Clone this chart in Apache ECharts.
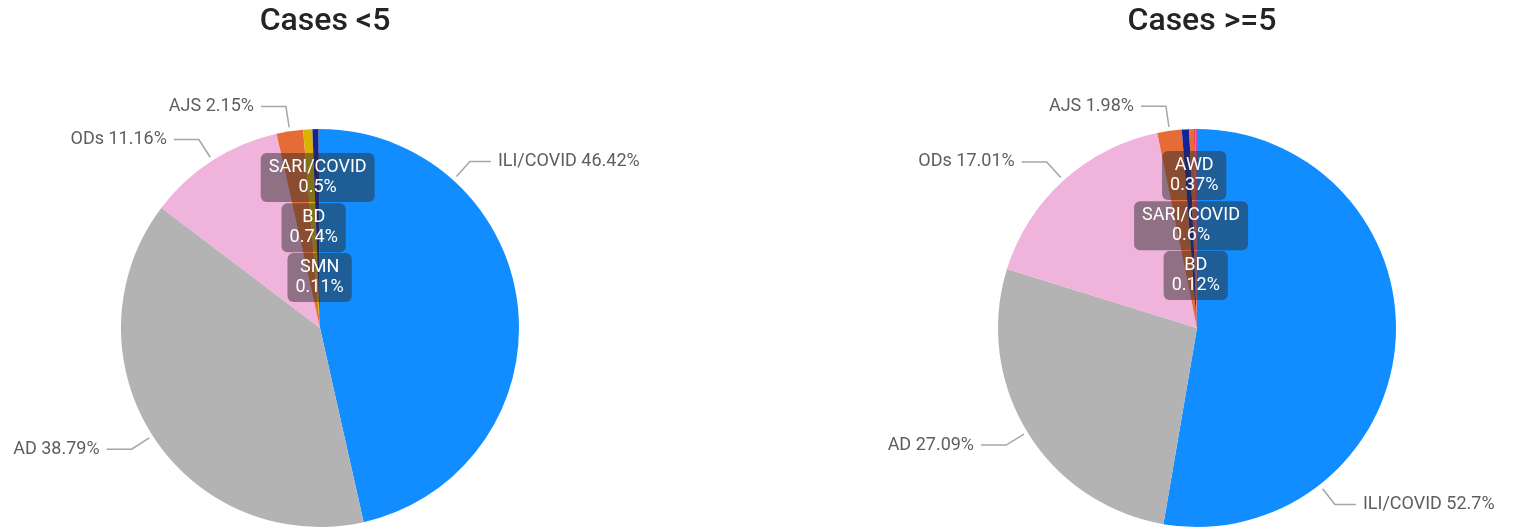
<!DOCTYPE html>
<html>
<head>
<meta charset="utf-8">
<script src="https://cdn.jsdelivr.net/npm/echarts@6/dist/echarts.min.js"></script>
<style>
  html, body { margin: 0; padding: 0; background: #fff; }
  #chart { width: 1520px; height: 531px; }
</style>
</head>
<body>
<div id="chart"></div>
<script>
// categories + shares (%), clockwise from 12 o'clock
const leftNames = ['ILI/COVID', 'AD', 'ODs', 'AJS', 'BD', 'SARI/COVID', 'SMN']
const leftValues = [46.42, 38.79, 11.16, 2.15, 0.74, 0.5, 0.11]
const rightNames = ['ILI/COVID', 'AD', 'ODs', 'AJS', 'SARI/COVID', 'AWD', 'BD', 'Other']
const rightValues = [52.7, 27.09, 17.01, 1.98, 0.6, 0.37, 0.12, 0.13]
const titles = ['Cases <5', 'Cases >=5']

const colorOf = {
  'ILI/COVID': '#118DFF', 'AD': '#B3B3B3', 'ODs': '#F0B3DB', 'AJS': '#E66C37',
  'BD': '#D9B300', 'SARI/COVID': '#12239E', 'SMN': '#4E8B83', 'AWD': '#E66C37', 'Other': '#E044A7'
}
const rightColorOf = Object.assign({}, colorOf, { 'BD': '#D64550' })

// which slices get the dark inside box, and how far it is pushed up/down
const leftInside = { 'SARI/COVID': -48, 'BD': 2, 'SMN': 52 }
const rightInside = { 'AWD': -50, 'SARI/COVID': 0, 'BD': 50 }

const font = 'Roboto, "DejaVu Sans", sans-serif'
const R = 199

function items(names, values, inside, colors) {
  return names.map((n, i) => {
    const it = { name: n, value: values[i], itemStyle: { color: colors[n] } }
    if (n in inside) {
      it.label = {
        position: 'inside', formatter: p => `${p.name}\n${p.value}%`,
        color: '#fff', fontSize: 18, lineHeight: 20, fontFamily: font,
        backgroundColor: 'rgba(45,45,45,0.5)', borderRadius: 6, padding: [5, 8, 4, 8],
        offset: [0, inside[n]]
      }
      it.labelLine = { show: false }
    } else if (n === 'Other') {
      it.label = { show: false }
      it.labelLine = { show: false }
    }
    return it
  })
}

// the big slice's label is hung off a fixed angle (deg from 12 o'clock), not its middle;
// all leader lines start a few px off the rim like in the original
function pie(center, data, iliAngle) {
  return {
    type: 'pie', center, radius: R, startAngle: 90, clockwise: true,
    avoidLabelOverlap: false, silent: true, animation: false,
    label: { formatter: p => `${p.name} ${p.value}%`, color: '#605E5C', fontSize: 18, fontFamily: font, distanceToLabelLine: 7 },
    labelLine: { length: 25, length2: 25, lineStyle: { color: '#A6A6A6', width: 1.5 } },
    labelLayout: p => {
      if (p.dataIndex === 0) {
        const a = iliAngle * Math.PI / 180, s = Math.sin(a), c = Math.cos(a)
        const start = [center[0] + (R + 5) * s, center[1] - (R + 5) * c]
        const knee = [center[0] + (R + 25) * s, center[1] - (R + 25) * c]
        const end = [knee[0] + 21, knee[1]]
        return { x: end[0] + 7, y: end[1], align: 'left', verticalAlign: 'middle', labelLinePoints: [start, knee, end] }
      }
      const pts = p.labelLinePoints
      if (!pts) return
      const dx = pts[1][0] - pts[0][0], dy = pts[1][1] - pts[0][1], len = Math.hypot(dx, dy) || 1
      return { labelLinePoints: [[pts[0][0] + dx / len * 4, pts[0][1] + dy / len * 4], pts[1], pts[2]] }
    },
    data
  }
}

const chart = echarts.init(document.getElementById('chart'))
chart.setOption({
  backgroundColor: '#fff',
  title: titles.map((t, i) => ({
    text: t, left: i ? 1197 : 320, top: 1, textAlign: 'center',
    textStyle: { fontSize: 32, fontWeight: 500, color: '#252423', fontFamily: font }
  })),
  series: [
    pie([320, 328], items(leftNames, leftValues, leftInside, colorOf), 42),
    pie([1197, 328], items(rightNames, rightValues, rightInside, rightColorOf), 142)
  ]
})
window.addEventListener('resize', () => chart.resize())
</script>
</body>
</html>
